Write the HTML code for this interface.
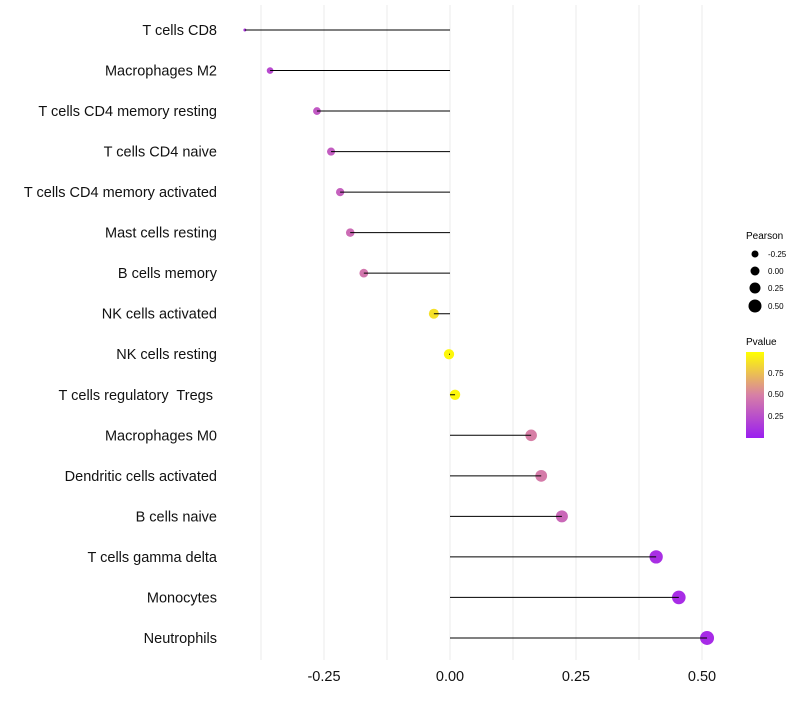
<!DOCTYPE html>
<html><head><meta charset="utf-8"><style>
body{margin:0;background:#fff;font-family:"Liberation Sans",sans-serif}
svg text{font-family:"Liberation Sans",sans-serif;white-space:pre}
</style></head><body>
<svg id="chart" width="800" height="700" xmlns="http://www.w3.org/2000/svg">
<g id="grid"></g>
<g id="marks"></g>
<g id="ylabels"></g>
<g id="xlabels"></g>
<g>
<text x="746" y="239" font-size="10">Pearson</text>
<circle cx="755" cy="254" r="3.5" fill="#000"/><text x="768" y="257" font-size="8">-0.25</text>
<circle cx="755" cy="271" r="4.5" fill="#000"/><text x="768" y="274" font-size="8">0.00</text>
<circle cx="755" cy="288" r="5.5" fill="#000"/><text x="768" y="291" font-size="8">0.25</text>
<circle cx="755" cy="306" r="6.5" fill="#000"/><text x="768" y="309" font-size="8">0.50</text>
</g>
<g>
<defs><linearGradient id="pg" x1="0" y1="1" x2="0" y2="0">
<stop offset="0" stop-color="#9a1ef0"/><stop offset="0.5" stop-color="#d77fa6"/><stop offset="1" stop-color="#ffff00"/></linearGradient></defs>
<text x="746" y="345" font-size="10">Pvalue</text>
<rect x="746" y="352" width="18" height="86" fill="url(#pg)"/>
<text x="768" y="376" font-size="8">0.75</text>
<text x="768" y="397" font-size="8">0.50</text>
<text x="768" y="419" font-size="8">0.25</text>
</g>
</svg>
<script>
const categories=["T cells CD8","Macrophages M2","T cells CD4 memory resting","T cells CD4 naive","T cells CD4 memory activated","Mast cells resting","B cells memory","NK cells activated","NK cells resting","T cells regulatory  Tregs ","Macrophages M0","Dendritic cells activated","B cells naive","T cells gamma delta","Monocytes","Neutrophils"];
const pearson=[-0.407,-0.357,-0.264,-0.236,-0.218,-0.198,-0.171,-0.032,-0.002,0.010,0.161,0.181,0.222,0.409,0.454,0.510];
const pvalues=[0.12,0.22,0.3,0.32,0.34,0.4,0.45,0.88,0.97,0.97,0.5,0.48,0.38,0.08,0.07,0.06];
const xTicks=[-0.25,0,0.25,0.5];
const xTickLabels=["-0.25","0.00","0.25","0.50"];
const gridVals=[-0.375,-0.25,-0.125,0,0.125,0.25,0.375,0.5];
const NS="http://www.w3.org/2000/svg";
const xs=v=>450+v*504;
const ys=i=>30+i*40.53;
function rad(v){let r2=26.6+43.8*v;if(v<-0.357)r2=2.25+Math.max(0,(v+0.407)/0.05)*8.75;return Math.sqrt(Math.max(1,r2));}
function mk(t,a,p){const e=document.createElementNS(NS,t);for(const k in a)e.setAttribute(k,a[k]);p.appendChild(e);return e;}
function lerp(a,b,t){return a.map((x,i)=>Math.round(x+(b[i]-x)*t));}
function col(p){const c0=[160,32,240],c1=[215,127,166],c2=[255,255,0];const c=p<0.5?lerp(c0,c1,p/0.5):lerp(c1,c2,(p-0.5)/0.5);return `rgb(${c})`;}
const g=document.getElementById('grid');
gridVals.forEach(v=>{const l=mk('line',{x1:xs(v),x2:xs(v),y1:5,y2:660,stroke:'#ebebeb','stroke-width':1},g);

});
const m=document.getElementById('marks'),yl=document.getElementById('ylabels'),xl=document.getElementById('xlabels');
categories.forEach((c,i)=>{
const y=ys(i);
const d=mk('circle',{cx:xs(pearson[i]),cy:y,r:rad(pearson[i]),fill:col(pvalues[i])},m);


const s=mk('line',{x1:xs(0),x2:xs(pearson[i]),y1:y,y2:y,stroke:'#000','stroke-width':1},m);


const t=mk('text',{x:217,y:y+5,'text-anchor':'end','font-size':14.5,fill:'#111'},yl);
t.textContent=c;


});
xTicks.forEach((v,i)=>{const t=mk('text',{x:xs(v),y:681,'text-anchor':'middle','font-size':14.5,fill:'#111'},xl);
t.textContent=xTickLabels[i];

});
</script>
</body></html>
